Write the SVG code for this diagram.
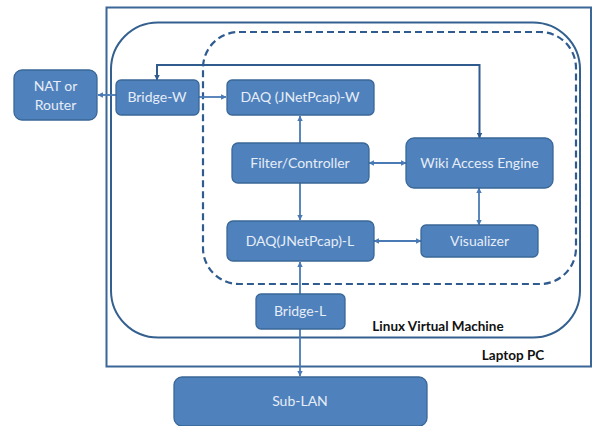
<svg xmlns="http://www.w3.org/2000/svg" width="594" height="426" viewBox="0 0 594 426">
<style>
.n{fill:#4f81bd;stroke:#3a6797;stroke-width:1.3}
.t{font-family:Lato,"Open Sans","Liberation Sans",sans-serif;font-size:14px;fill:#e6edf6;text-anchor:middle}
.k{font-family:Lato,"Open Sans","Liberation Sans",sans-serif;font-size:13.5px;font-weight:700;fill:#111;text-anchor:middle}
.c{fill:none;stroke:#4a7ab5;stroke-width:1.8}
.e{marker-end:url(#a)}
.s{marker-start:url(#a)}
.d{fill:none;stroke:#2f5b8f;stroke-width:2;marker-start:url(#b);marker-end:url(#b)}
</style>
<defs>
<marker id="a" viewBox="0 0 6 6" refX="5.5" refY="3" markerWidth="3" markerHeight="3" orient="auto-start-reverse"><path d="M0 0L6 3L0 6Z" fill="#4a7ab5"/></marker>
<marker id="b" viewBox="0 0 6 6" refX="5.500" refY="3" markerWidth="3" markerHeight="3" orient="auto-start-reverse"><path d="M0 0L6 3L0 6Z" fill="#2f5b8f"/></marker>
</defs>
<g id="laptop-pc"><rect x="106.5" y="7.5" width="484.500" height="359" fill="#fff" stroke="#3a6797" stroke-width="2"/><text class="k" x="513" y="360">Laptop PC</text></g>
<g id="linux-vm"><rect x="111" y="22.500" width="469" height="315" rx="47" fill="none" stroke="#33608f" stroke-width="2"/><text class="k" x="438" y="331">Linux Virtual Machine</text></g>
<g id="vm-inner"><rect x="203" y="32" width="373" height="252" rx="36" fill="none" stroke="#2f5b8f" stroke-width="2.200" stroke-dasharray="7 4"/></g>
<g id="connectors">
<path class="c e" d="M116 95H98"/>
<path class="c e" d="M199 97H226"/>
<path class="c e" d="M300 183V116"/>
<path class="c e" d="M300 183V220"/>
<path class="c s e" d="M369 163H406"/>
<path class="c s e" d="M479 188V225"/>
<path class="c s e" d="M374 241H421"/>
<path class="c s e" d="M300 262V376"/>
<path class="d" d="M157 80V65H479.500V138"/>
</g>
<g id="nat-router"><rect class="n" x="14" y="70" width="83" height="50" rx="8"/><text class="t" x="55.500" y="91">NAT or</text><text class="t" x="55.500" y="110">Router</text></g>
<g id="bridge-w"><rect class="n" x="116" y="80" width="83" height="35" rx="5"/><text class="t" x="157" y="102">Bridge-W</text></g>
<g id="daq-w"><rect class="n" x="227" y="80" width="147" height="35" rx="5"/><text class="t" x="300" y="102">DAQ (JNetPcap)-W</text></g>
<g id="filter"><rect class="n" x="232" y="143" width="137" height="40" rx="6"/><text class="t" x="300" y="168">Filter/Controller</text></g>
<g id="wiki"><rect class="n" x="406" y="138" width="147" height="50" rx="8"/><text class="t" x="479.500" y="168">Wiki Access Engine</text></g>
<g id="daq-l"><rect class="n" x="227" y="221" width="147" height="40" rx="6"/><text class="t" x="300" y="246">DAQ(JNetPcap)-L</text></g>
<g id="visualizer"><rect class="n" x="421" y="225" width="117" height="32" rx="5"/><text class="t" x="479.500" y="246">Visualizer</text></g>
<g id="bridge-l"><rect class="n" x="256" y="294" width="89" height="35" rx="5"/><text class="t" x="300" y="316">Bridge-L</text></g>
<g id="sub-lan"><rect class="n" x="174" y="377" width="253" height="49" rx="8"/><text class="t" x="300" y="406">Sub-LAN</text></g>
</svg>
